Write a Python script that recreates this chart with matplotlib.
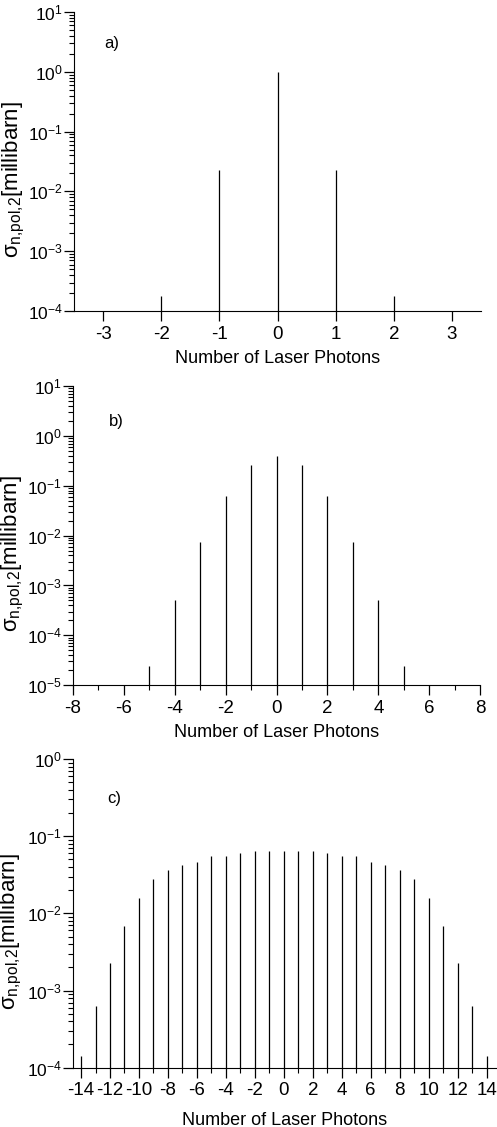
import numpy as np
import matplotlib
matplotlib.use("Agg")
import matplotlib.pyplot as plt
from matplotlib.ticker import LogLocator, MultipleLocator, NullFormatter

plt.rcParams['font.family'] = ['Liberation Sans', 'DejaVu Sans']
plt.rcParams['mathtext.fontset'] = 'custom'
plt.rcParams['mathtext.rm'] = 'Liberation Sans'
plt.rcParams['mathtext.it'] = 'Liberation Sans'
plt.rcParams['axes.unicode_minus'] = False

# dane - panel a)
n_a = [-2, -1, 0, 1, 2]
sigma_a = [1.8e-4, 0.023, 1.0, 0.023, 1.8e-4]

# dane - panel b)
n_b = [-5, -4, -3, -2, -1, 0, 1, 2, 3, 4, 5]
sigma_b = [2.4e-5, 5.2e-4, 0.0075, 0.063, 0.26, 0.39, 0.26, 0.063, 0.0075, 5.2e-4, 2.4e-5]

# dane - panel c)
n_c = list(range(-14, 15))
sigma_c_half = [1.4e-4, 6.3e-4, 0.0023, 0.0069, 0.0158, 0.0275, 0.037, 0.042,
                0.047, 0.055, 0.056, 0.060, 0.064, 0.064]
sigma_c = sigma_c_half + [0.065] + sigma_c_half[::-1]

etykieta_y = 'σ$_{\\mathrm{n{,}pol{,}2}}$[millibarn]'
etykieta_x = 'Number of Laser Photons'

fig = plt.figure(figsize=(4.97, 11.27), dpi=100)

ax_a = fig.add_axes([0.149, 0.724, 0.819, 0.2654])
ax_b = fig.add_axes([0.147, 0.392, 0.819, 0.2655])
ax_c = fig.add_axes([0.147, 0.0526, 0.851, 0.2739])


def rysuj(ax, n, s, ylim, xlim, litera, tekst_xy, major, minor, pad_x=5):
    ax.vlines(n, ylim[0], s, color='black', lw=0.9)
    ax.set_yscale('log')
    ax.set_ylim(ylim)
    ax.set_xlim(xlim)
    ax.spines['top'].set_visible(False)
    ax.spines['right'].set_visible(False)
    ax.yaxis.set_major_locator(LogLocator(base=10, numticks=20))
    ax.yaxis.set_minor_locator(LogLocator(base=10, subs=np.arange(2, 10), numticks=20))
    ax.yaxis.set_minor_formatter(NullFormatter())
    ax.xaxis.set_major_locator(MultipleLocator(major))
    if minor:
        ax.xaxis.set_minor_locator(MultipleLocator(minor))
    ax.tick_params(which='major', direction='out', length=7, width=0.9, labelsize=13.5)
    ax.tick_params(which='minor', direction='out', length=3.5, width=0.8)
    ax.tick_params(axis='y', labelsize=12.5, pad=1)
    ax.set_xlabel(etykieta_x, fontsize=13, labelpad=pad_x)
    ax.set_ylabel(etykieta_y, fontsize=16)
    ax.yaxis.set_label_coords(-0.115, 0.44)
    ax.text(tekst_xy[0], tekst_xy[1], litera, fontsize=12, ha='left', va='center')


rysuj(ax_a, n_a, sigma_a, (1e-4, 10), (-3.5, 3.5), 'a)', (-2.98, 3.0), 1, None)
rysuj(ax_b, n_b, sigma_b, (1e-5, 10), (-8, 8), 'b)', (-6.6, 1.9), 2, 1)
rysuj(ax_c, n_c, sigma_c, (1e-4, 1), (-14.55, 14.65), 'c)', (-12.2, 0.31), 2, 1, pad_x=9)

fig.savefig('out.png', dpi=100)
